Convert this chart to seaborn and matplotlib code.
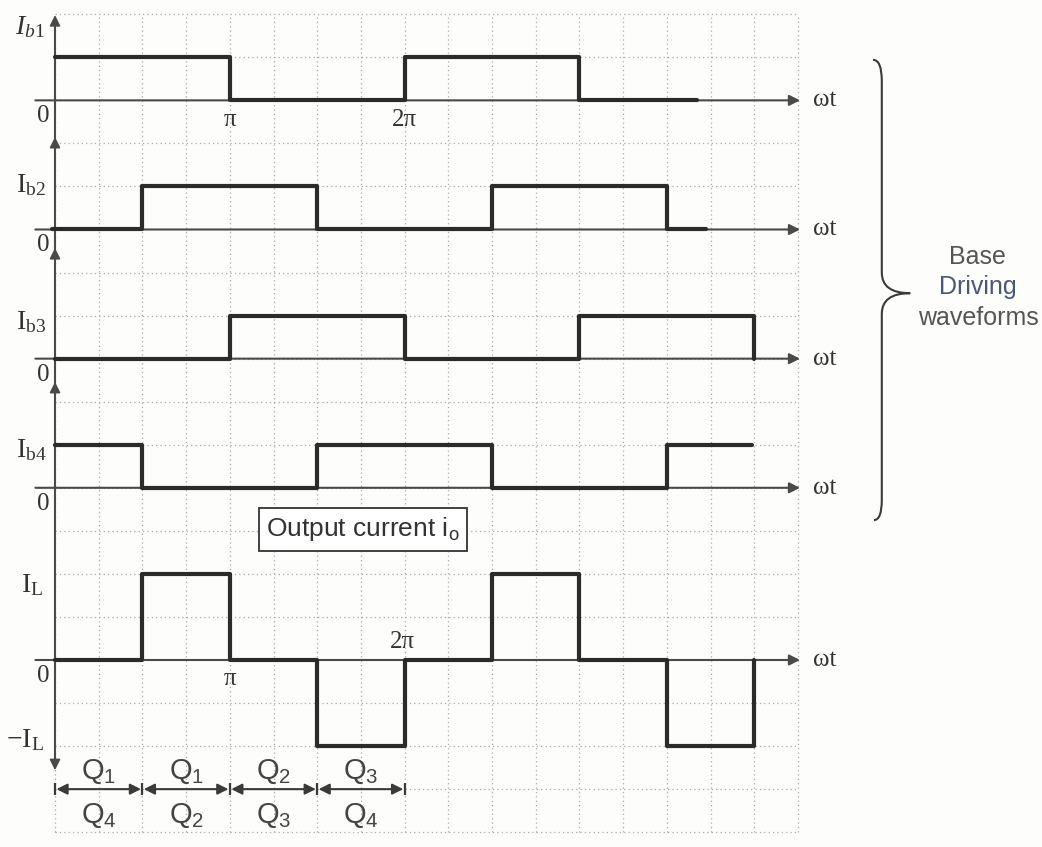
import numpy as np
import pandas as pd
import matplotlib
matplotlib.use("Agg")
import matplotlib.pyplot as plt
import seaborn as sns
from matplotlib.path import Path
from matplotlib.patches import PathPatch

# ---------------- data (switching instants in units of pi/2) ----------------
IB1_EDGES = [0, 2, 4, 6, 7.35]
IB1_LEVELS = [1, 0, 1, 0]
IB2_EDGES = [-0.03, 1, 3, 5, 7, 7.45]
IB2_LEVELS = [0, 1, 0, 1, 0]
IB3_EDGES = [0, 2, 4, 6, 8, 8]
IB3_LEVELS = [0, 1, 0, 1, 0]
IB4_EDGES = [0, 1, 3, 5, 7, 7.97]
IB4_LEVELS = [1, 0, 1, 0, 1]
IO_EDGES = [0, 1, 2, 3, 4, 5, 6, 7, 8, 8]
IO_LEVELS = [0, 1, 0, -1, 0, 1, 0, -1, 0]

ROW_KEYS = ["Ib1", "Ib2", "Ib3", "Ib4", "Io"]
ROW_LABELS = [r"$\mathit{I_{b1}}$", r"$\mathrm{I_{b2}}$", r"$\mathrm{I_{b3}}$",
              r"$\mathrm{I_{b4}}$", r"$\mathrm{I_L}$"]
NEG_LABEL = r"$-\mathrm{I_L}$"
PI_TICKS = [1, 2]                 # multiples of pi
PI_TICK_LABELS = ["π", "2π"]
SEGMENT_EDGES = [0, 1, 2, 3, 4]   # units of pi/2
SEG_TOP = [r"$\mathsf{Q_1}$", r"$\mathsf{Q_1}$", r"$\mathsf{Q_2}$", r"$\mathsf{Q_3}$"]
SEG_BOTTOM = [r"$\mathsf{Q_4}$", r"$\mathsf{Q_2}$", r"$\mathsf{Q_3}$", r"$\mathsf{Q_4}$"]

# ---------------- layout (grid cells: 1 cell = pi/4 horizontally) ----------------
CELLS_PER_HALFPI = 2
BASELINES = {"Ib1": 13, "Ib2": 10, "Ib3": 7, "Ib4": 4, "Io": 0}
AMPL = {"Ib1": 1, "Ib2": 1, "Ib3": 1, "Ib4": 1, "Io": 2}
EDGES = {"Ib1": IB1_EDGES, "Ib2": IB2_EDGES, "Ib3": IB3_EDGES, "Ib4": IB4_EDGES, "Io": IO_EDGES}
LEVELS = {"Ib1": IB1_LEVELS, "Ib2": IB2_LEVELS, "Ib3": IB3_LEVELS, "Ib4": IB4_LEVELS, "Io": IO_LEVELS}

rows = []
for key in ROW_KEYS:
    e, l = EDGES[key], LEVELS[key]
    for i, lev in enumerate(l):
        for xx in (e[i], e[i + 1]):
            rows.append({"row": key, "x": xx * CELLS_PER_HALFPI,
                         "y": BASELINES[key] + lev * AMPL[key]})
df = pd.DataFrame(rows)

sns.set_theme(style="white")
plt.rcParams["font.family"] = ["Liberation Sans", "DejaVu Sans"]
plt.rcParams["mathtext.fontset"] = "custom"
plt.rcParams["mathtext.rm"] = "Liberation Serif"
plt.rcParams["mathtext.it"] = "Liberation Serif:italic"
plt.rcParams["mathtext.sf"] = "Liberation Sans"

fig = plt.figure(figsize=(10.42, 8.47), dpi=100)
ax = fig.add_axes([0, 0, 1, 1])
fig.patch.set_facecolor("#fdfdfc")

GRID_X = np.arange(0, 18)
GRID_Y = np.arange(-4, 16)
ax.vlines(GRID_X, -4, 15, colors="#a8a8a8", linestyles=(0, (1, 2.5)), lw=0.9, zorder=1)
ax.hlines(GRID_Y, 0, 17, colors="#a8a8a8", linestyles=(0, (1, 2.5)), lw=0.9, zorder=1)

AX_C = "#4a4a4a"
WAVE_C = "#2b2b2b"
serif = ["Liberation Serif", "DejaVu Serif"]

# horizontal axes with arrows
for key in ROW_KEYS:
    b = BASELINES[key]
    ax.annotate("", xy=(17.05, b), xytext=(-0.45, b),
                arrowprops=dict(arrowstyle="-|>", color=AX_C, lw=1.5,
                                mutation_scale=16, shrinkA=0, shrinkB=0), zorder=3)
    ax.text(17.62, b, "ωt", family=serif, fontsize=18, ha="center", va="center", color="#333")
    ax.text(-0.27, b - 0.37, "0", family=serif, fontsize=18, ha="center", va="center", color="#333")

# vertical axis
ax.plot([0, 0], [14.8, -2.4], color=AX_C, lw=1.5, zorder=3)
for tip in (14.98, 12.15, 9.57, 6.46):
    ax.annotate("", xy=(0, tip), xytext=(0, tip - 0.35),
                arrowprops=dict(arrowstyle="-|>", color=AX_C, lw=1.2,
                                mutation_scale=16, shrinkA=0, shrinkB=0), zorder=3)
ax.annotate("", xy=(0, -2.56), xytext=(0, -2.2),
            arrowprops=dict(arrowstyle="-|>", color=AX_C, lw=1.2,
                            mutation_scale=16, shrinkA=0, shrinkB=0), zorder=3)

# waveforms
sns.lineplot(data=df, x="x", y="y", units="row", estimator=None, sort=False,
             color=WAVE_C, lw=3.0, ax=ax, legend=False, zorder=4)
ax.set_xlim(-1.259, 22.586)
ax.set_ylim(-4.344, 15.331)
ax.axis("off")

# row labels
label_pos = [(-0.57, 14.70), (-0.55, 11.03), (-0.55, 7.85), (-0.55, 4.88), (-0.53, 1.74)]
for lab, (lx, ly) in zip(ROW_LABELS, label_pos):
    ax.text(lx, ly, lab, fontsize=20, ha="center", va="center", color="#333")
ax.text(-0.68, -1.86, NEG_LABEL, fontsize=20, ha="center", va="center", color="#333")

# pi tick labels
for m, lab in zip(PI_TICKS, PI_TICK_LABELS):
    xx = m * 2 * CELLS_PER_HALFPI
    ax.text(xx, BASELINES["Ib1"] - 0.46, lab, family=serif, fontsize=18,
            ha="center", va="center", color="#333")
ax.text(PI_TICKS[0] * 4, BASELINES["Io"] - 0.44, PI_TICK_LABELS[0], family=serif,
        fontsize=18, ha="center", va="center", color="#333")
ax.text(PI_TICKS[1] * 4 - 0.06, BASELINES["Io"] + 0.42, PI_TICK_LABELS[1], family=serif,
        fontsize=18, ha="center", va="center", color="#333")

# output current box
ax.text(7.05, 3.04, r"Output current $\mathsf{i_o}$", fontsize=19, ha="center", va="center",
        color="#333", zorder=5,
        bbox=dict(boxstyle="square,pad=0.28", fc="white", ec="#333", lw=1.3))

# conduction segments
ydim = -3.0
for i in range(len(SEGMENT_EDGES) - 1):
    x0 = SEGMENT_EDGES[i] * CELLS_PER_HALFPI
    x1 = SEGMENT_EDGES[i + 1] * CELLS_PER_HALFPI
    ax.annotate("", xy=(x1, ydim), xytext=(x0, ydim),
                arrowprops=dict(arrowstyle="<|-|>", color="#3a3a3a", lw=1.5,
                                mutation_scale=16, shrinkA=1, shrinkB=1), zorder=4)
    xm = (x0 + x1) / 2
    ax.text(xm, -2.6, SEG_TOP[i], fontsize=21, ha="center", va="center", color="#444")
    ax.text(xm, -3.62, SEG_BOTTOM[i], fontsize=21, ha="center", va="center", color="#444")
ax.vlines([e * CELLS_PER_HALFPI for e in SEGMENT_EDGES], ydim - 0.14, ydim + 0.14,
          colors="#3a3a3a", lw=1.6, zorder=4)

# brace
verts = [(18.72, 13.94), (18.92, 13.94), (18.92, 13.45),
         (18.92, 9.0),
         (18.92, 8.52), (19.57, 8.52),
         (18.92, 8.52), (18.92, 8.04),
         (18.92, 3.72),
         (18.92, 3.25), (18.74, 3.25)]
codes = [Path.MOVETO, Path.CURVE3, Path.CURVE3, Path.LINETO,
         Path.CURVE3, Path.CURVE3, Path.CURVE3, Path.CURVE3,
         Path.LINETO, Path.CURVE3, Path.CURVE3]
ax.add_patch(PathPatch(Path(verts, codes), fc="none", ec="#3a3a3a", lw=1.5))
ax.text(21.12, 9.36, "Base", fontsize=18, ha="center", va="center", color="#555")
ax.text(21.12, 8.66, "Driving", fontsize=18, ha="center", va="center", color="#4a5878")
ax.text(21.12, 7.94, "waveforms", fontsize=18, ha="center", va="center", color="#555")

fig.savefig("out.png", dpi=100, facecolor=fig.get_facecolor())
